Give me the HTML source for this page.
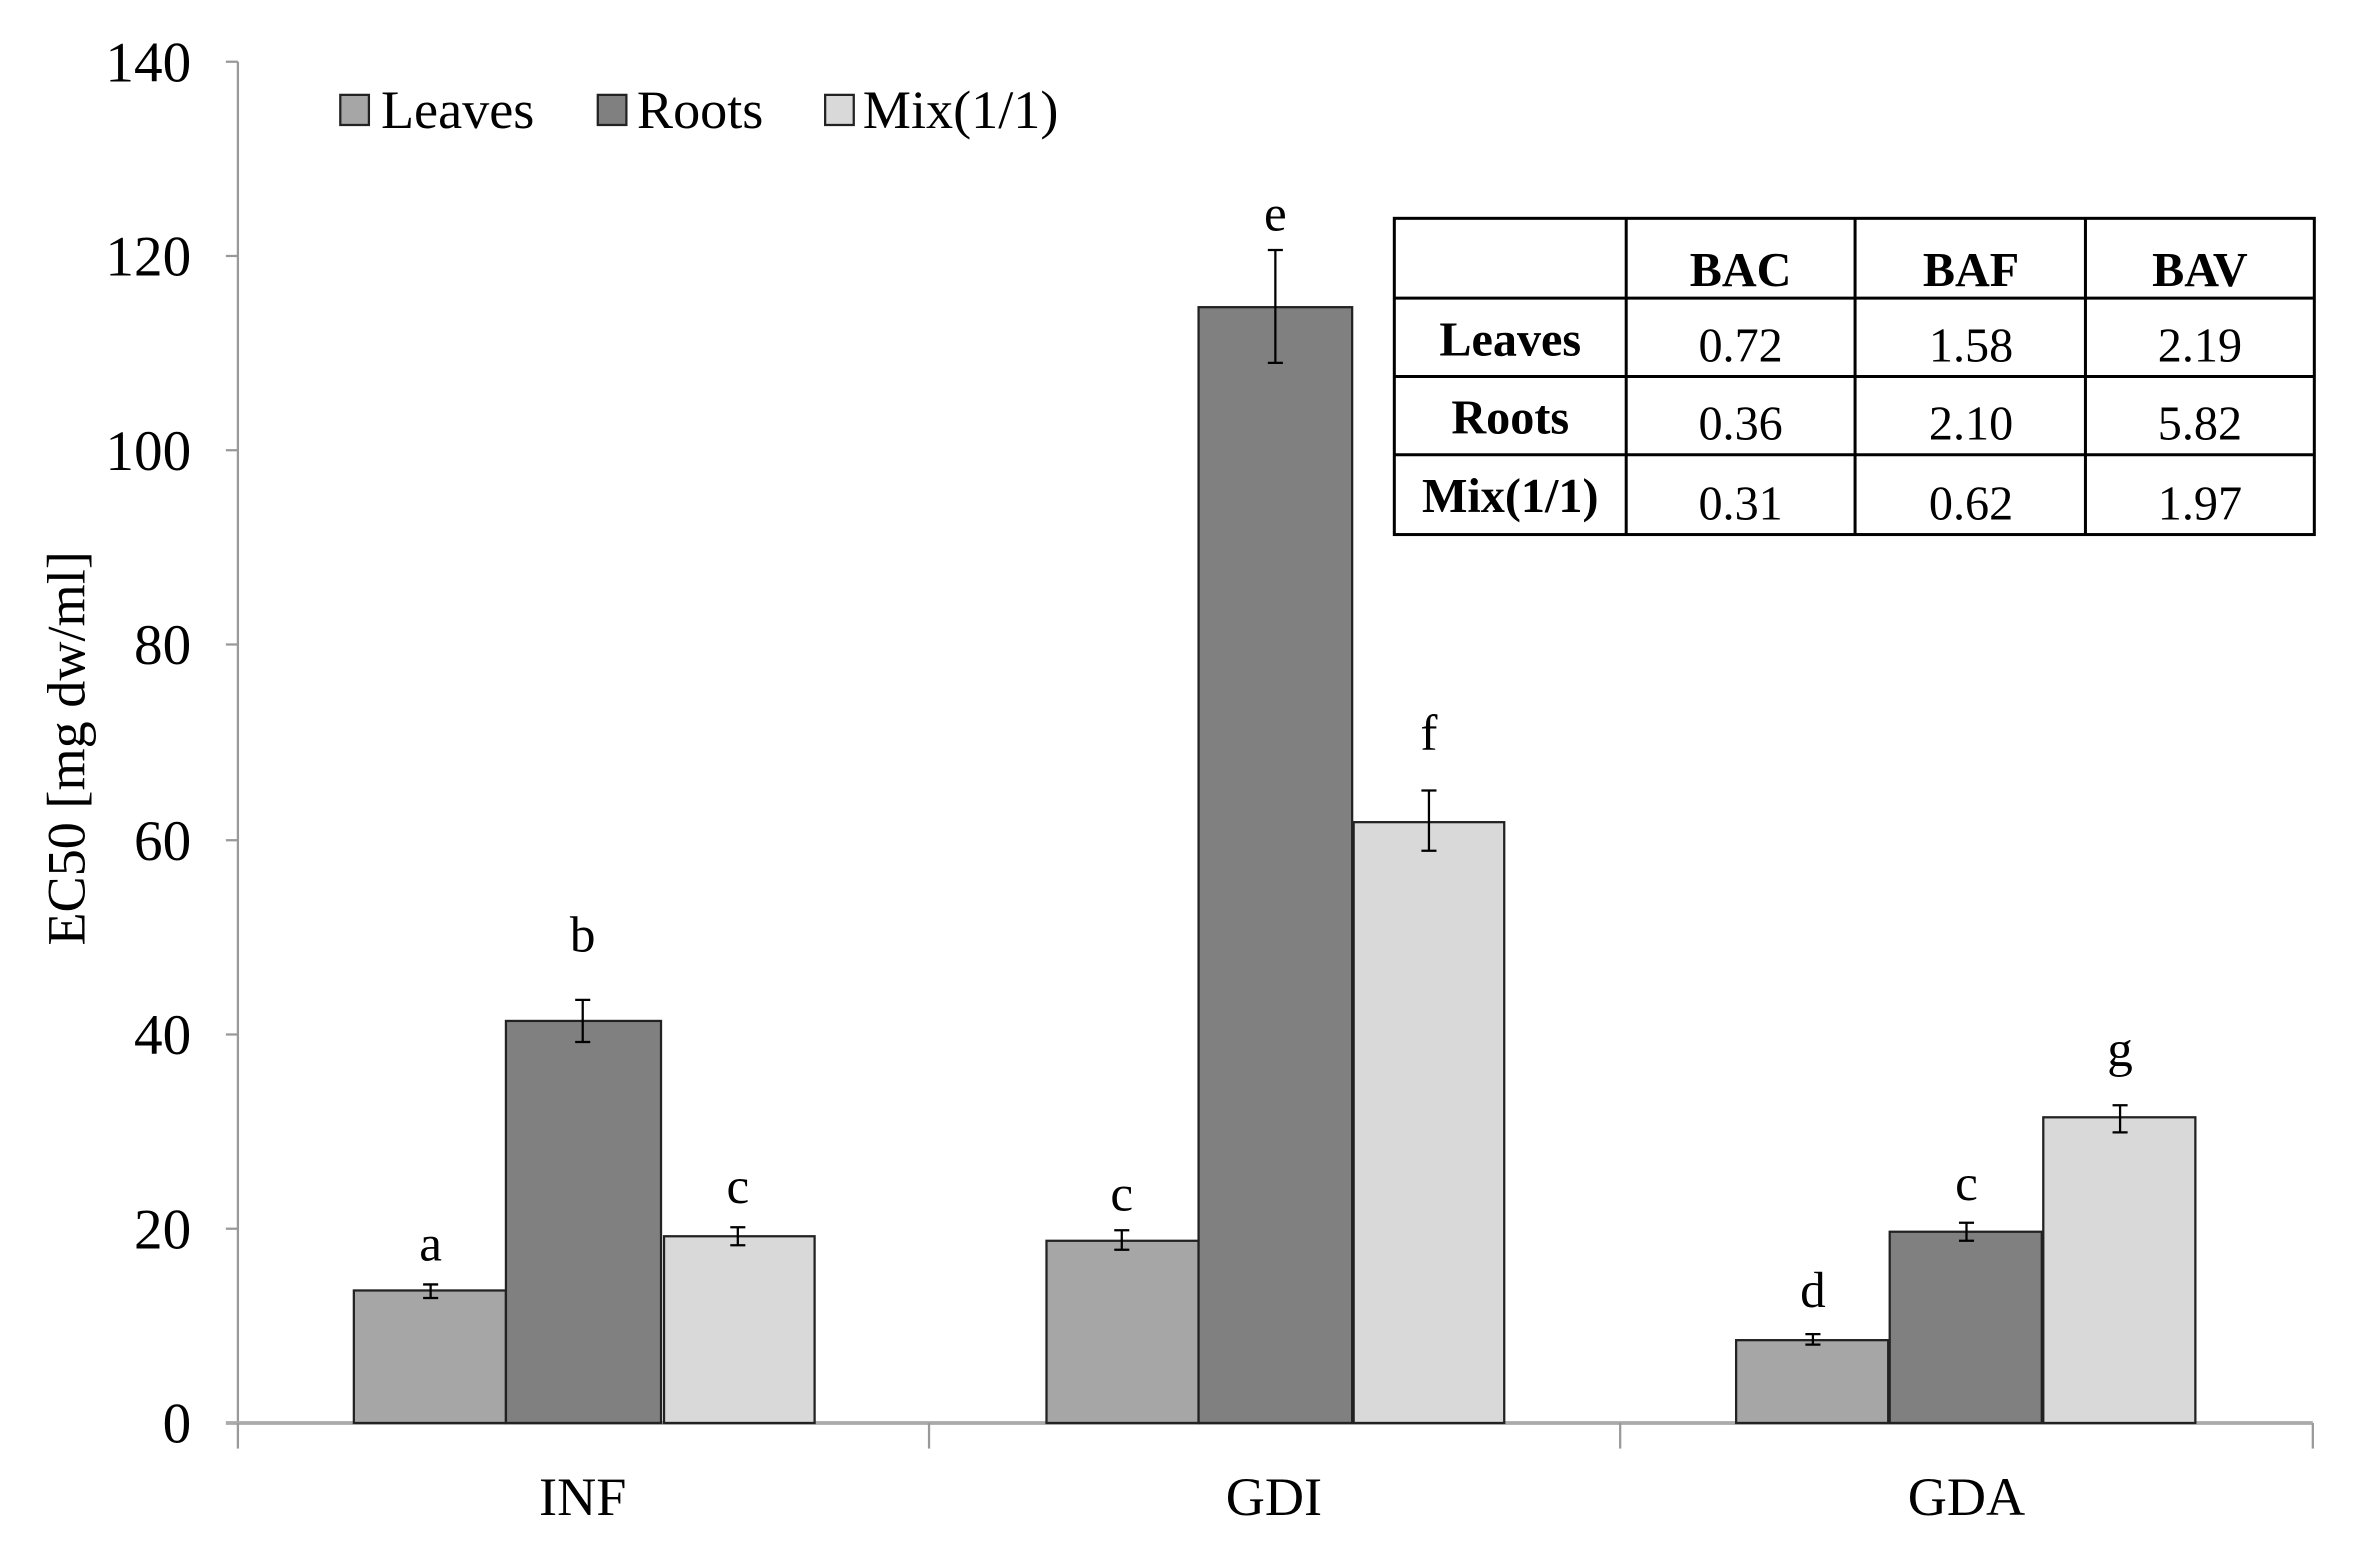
<!DOCTYPE html>
<html><head><meta charset="utf-8"><style>html,body{margin:0;padding:0;background:#fff}svg{display:block}</style></head>
<body>
<svg width="2361" height="1560" viewBox="0 0 1568 1036" preserveAspectRatio="none" xmlns="http://www.w3.org/2000/svg" font-family="Liberation Serif, serif">
<g stroke="#999" stroke-width="1.5">
<line x1="158" y1="41" x2="158" y2="945"/>
<line x1="150" y1="41" x2="158" y2="41"/><line x1="150" y1="170" x2="158" y2="170"/><line x1="150" y1="299" x2="158" y2="299"/><line x1="150" y1="428" x2="158" y2="428"/><line x1="150" y1="558" x2="158" y2="558"/><line x1="150" y1="687" x2="158" y2="687"/><line x1="150" y1="816" x2="158" y2="816"/>
<line x1="150" y1="945" x2="1536" y2="945" stroke-width="2.5" stroke="#aaa"/>
<line x1="158" y1="945" x2="158" y2="962"/><line x1="617" y1="945" x2="617" y2="962"/><line x1="1076" y1="945" x2="1076" y2="962"/><line x1="1536" y1="945" x2="1536" y2="962"/>
</g>
<g font-size="38" text-anchor="end" fill="#000">
<text x="127" y="54">140</text><text x="127" y="183">120</text><text x="127" y="312">100</text><text x="127" y="441">80</text><text x="127" y="571">60</text><text x="127" y="700">40</text><text x="127" y="829">20</text><text x="127" y="958">0</text>
</g>
<text transform="translate(56,497) rotate(-90)" font-size="36" text-anchor="middle">EC50 [mg dw/ml]</text>
<g font-size="36" text-anchor="middle">
<text x="387" y="1006">INF</text><text x="846" y="1006">GDI</text><text x="1306" y="1006">GDA</text>
</g>
<g stroke="#222" stroke-width="1.5">
<rect x="235" y="857" width="101" height="88" fill="#a6a6a6"/>
<rect x="336" y="678" width="103" height="267" fill="#808080"/>
<rect x="441" y="821" width="100" height="124" fill="#d9d9d9"/>
<rect x="695" y="824" width="101" height="121" fill="#a6a6a6"/>
<rect x="796" y="204" width="102" height="741" fill="#808080"/>
<rect x="899" y="546" width="100" height="399" fill="#d9d9d9"/>
<rect x="1153" y="890" width="101" height="55" fill="#a6a6a6"/>
<rect x="1255" y="818" width="101" height="127" fill="#808080"/>
<rect x="1357" y="742" width="101" height="203" fill="#d9d9d9"/>
</g>
<g stroke="#000" stroke-width="1.5">
<path d="M286 853v9M281 853h10M281 862h10"/>
<path d="M387 664v28M382 664h10M382 692h10"/>
<path d="M490 815v12M485 815h10M485 827h10"/>
<path d="M745 817v13M740 817h10M740 830h10"/>
<path d="M847 166v75M842 166h10M842 241h10"/>
<path d="M949 525v40M944 525h10M944 565h10"/>
<path d="M1204 886v7M1199 886h10M1199 893h10"/>
<path d="M1306 812v12M1301 812h10M1301 824h10"/>
<path d="M1408 734v18M1403 734h10M1403 752h10"/>
</g>
<g font-size="34" text-anchor="middle">
<text x="286" y="837">a</text><text x="387" y="632">b</text><text x="490" y="799">c</text>
<text x="745" y="804">c</text><text x="847" y="153">e</text><text x="949" y="498">f</text>
<text x="1204" y="868">d</text><text x="1306" y="797">c</text><text x="1408" y="708">g</text>
</g>
<g stroke="#222" stroke-width="1.5">
<rect x="226" y="63" width="19" height="20" fill="#a6a6a6"/>
<rect x="397" y="63" width="19" height="20" fill="#808080"/>
<rect x="548" y="63" width="19" height="20" fill="#d9d9d9"/>
</g>
<g font-size="36">
<text x="253" y="85">Leaves</text><text x="423" y="85">Roots</text><text x="573" y="85">Mix(1/1)</text>
</g>
<g stroke="#000" stroke-width="2" fill="none">
<rect x="926" y="145" width="611" height="210" fill="#fff"/>
<line x1="1080" y1="145" x2="1080" y2="355"/><line x1="1232" y1="145" x2="1232" y2="355"/><line x1="1385" y1="145" x2="1385" y2="355"/>
<line x1="926" y1="198" x2="1537" y2="198"/><line x1="926" y1="250" x2="1537" y2="250"/><line x1="926" y1="302" x2="1537" y2="302"/>
</g>
<g font-size="32" text-anchor="middle">
<text x="1156" y="190" font-weight="bold">BAC</text><text x="1309" y="190" font-weight="bold">BAF</text><text x="1461" y="190" font-weight="bold">BAV</text>
<text x="1003" y="236" font-weight="bold">Leaves</text><text x="1156" y="240">0.72</text><text x="1309" y="240">1.58</text><text x="1461" y="240">2.19</text>
<text x="1003" y="288" font-weight="bold">Roots</text><text x="1156" y="292">0.36</text><text x="1309" y="292">2.10</text><text x="1461" y="292">5.82</text>
<text x="1003" y="340" font-weight="bold">Mix(1/1)</text><text x="1156" y="345">0.31</text><text x="1309" y="345">0.62</text><text x="1461" y="345">1.97</text>
</g>
</svg>
</body></html>
